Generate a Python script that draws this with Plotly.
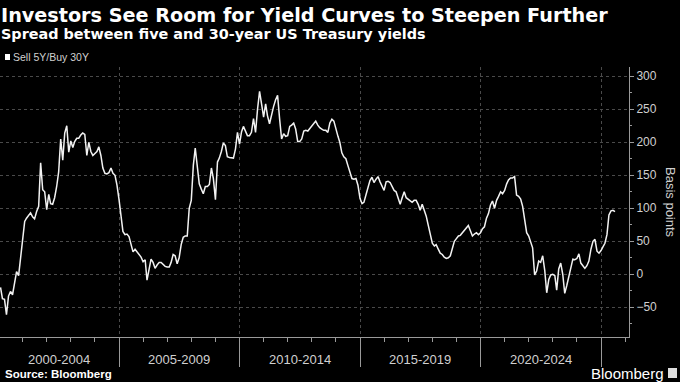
import pandas as pd
import plotly.graph_objects as go

# Monthly spread, bp (5Y vs 30Y), month-end from Jan 2000
start_month = "2000-01-31"
spread_bp = [
    -20, -37, -38, -61, -33, -26, -31, -12, 4, -2,
    24, 50, 80, 85, 89, 93, 87, 84, 95, 103,
    169, 128, 125, 98, 121, 107, 106, 116, 133, 155,
    205, 173, 214, 225, 185, 202, 192, 201, 206, 206,
    211, 214, 212, 180, 200, 186, 180, 183, 186, 193,
    180, 161, 153, 152, 154, 161, 153, 150, 135, 113,
    82, 65, 60, 61, 57, 47, 34, 38, 34, 29,
    26, 19, 22, -9, 7, 23, 18, 9, 14, 18,
    18, 15, 12, 11, 11, 18, 30, 28, 16, 25,
    45, 56, 58, 58, 100, 112, 165, 191, 160, 137,
    129, 122, 133, 133, 136, 161, 145, 113, 170, 176,
    186, 199, 195, 178, 177, 176, 176, 190, 215, 197,
    216, 224, 217, 210, 210, 215, 236, 215, 250, 277,
    258, 238, 258, 240, 228, 243, 254, 264, 271, 235,
    205, 213, 209, 210, 224, 226, 229, 220, 201, 201,
    205, 217, 218, 217, 221, 226, 230, 232, 226, 222,
    220, 218, 218, 215, 229, 235, 232, 218, 209, 200,
    184, 178, 175, 165, 153, 145, 144, 145, 135, 115,
    107, 109, 120, 133, 142, 147, 139, 144, 148, 140,
    133, 127, 140, 141, 139, 134, 127, 125, 117, 106,
    116, 125, 116, 114, 111, 109, 112, 112, 106, 97,
    106, 97, 88, 74, 58, 47, 43, 45, 38, 32,
    30, 26, 24, 25, 28, 40, 50, 54, 58, 59,
    63, 66, 70, 74, 66, 58, 61, 63, 60, 63,
    69, 72, 85, 92, 105, 111, 100, 112, 118, 125,
    122, 127, 137, 143, 146, 146, 148, 120, 118, 114,
    103, 78, 63, 58, 48, 40, -1, 5, 20, 18,
    28, 6, -28, -8, -1, 0, -2, -24, 8, 17,
    0, -29, -17, -2, 10, 23, 22, 24, 31, 17,
    13, 9, 13, 20, 38, 50, 53, 35, 32, 36,
    42, 47, 60, 90, 96, 97, 95,
]
period_labels = ["2000-2004", "2005-2009", "2010-2014", "2015-2019", "2020-2024"]
period_mids = ["2002-07-02", "2007-07-02", "2012-07-02", "2017-07-02", "2022-07-02"]
y_ticks = [-50, 0, 50, 100, 150, 200, 250, 300]
series_name = "Sell 5Y/Buy 30Y"

dates = pd.date_range(start=start_month, periods=len(spread_bp), freq=pd.offsets.MonthEnd())

FONT = "Liberation Sans"
HFONT = "DejaVu Sans"
GRID = "#4a4a4a"
AXIS = "#9a9a9a"
TXT = "#d0d0d0"

fig = go.Figure()
fig.add_trace(go.Scatter(x=dates, y=spread_bp, mode="lines", name=series_name,
                         line=dict(color="#f2f2f2", width=1.5), showlegend=False))

fig.update_layout(
    width=680, height=382,
    paper_bgcolor="black", plot_bgcolor="black",
    margin=dict(l=0, r=51, t=67, b=45, autoexpand=False),
    font=dict(family=FONT, color=TXT),
    xaxis=dict(
        type="date", range=["2000-01-23", "2026-02-28"],
        tick0="2000-01-01", dtick="M60", ticks="outside", ticklen=29,
        tickcolor=AXIS, tickwidth=1, showticklabels=False,
        showgrid=True, gridcolor=GRID, griddash="dot", gridwidth=1,
        showline=True, linecolor=AXIS, linewidth=1, zeroline=False,
        minor=dict(dtick="M12", ticks="outside", ticklen=4, tickcolor=AXIS, showgrid=False),
    ),
    yaxis=dict(
        side="right", range=[-95, 314], tickvals=y_ticks,
        ticks="outside", ticklen=4, tickcolor=AXIS,
        tickfont=dict(size=12, color=TXT),
        showgrid=True, gridcolor=GRID, griddash="dot", gridwidth=1,
        showline=True, linecolor=AXIS, linewidth=1, zeroline=False,
        minor=dict(dtick=25, ticks="outside", ticklen=2, tickcolor=AXIS, showgrid=False),
    ),
)

ann = []
ann.append(dict(text="<b>Investors See Room for Yield Curves to Steepen Further</b>",
                xref="paper", yref="paper", x=0, y=1, xanchor="left", yanchor="middle",
                xshift=-1, yshift=(67 - 15), showarrow=False,
                font=dict(size=19.2, color="white", family=HFONT)))
ann.append(dict(text="<b>Spread between five and 30-year US Treasury yields</b>",
                xref="paper", yref="paper", x=0, y=1, xanchor="left", yanchor="middle",
                xshift=-1, yshift=(67 - 34), showarrow=False,
                font=dict(size=14.4, color="white", family=HFONT)))
ann.append(dict(text=series_name, xref="paper", yref="paper", x=0, y=1,
                xanchor="left", yanchor="middle", xshift=11, yshift=(67 - 57),
                showarrow=False, font=dict(size=10.5, color=TXT, family=FONT)))
for lab, mid in zip(period_labels, period_mids):
    ann.append(dict(text=lab, x=mid, xref="x", yref="paper", y=0, yanchor="middle",
                    yshift=-(359 - 337), showarrow=False,
                    font=dict(size=13, color=TXT, family=FONT)))
ann.append(dict(text="Basis points", xref="paper", yref="paper", x=1, y=0.5,
                xanchor="center", yanchor="middle", xshift=(671 - 629),
                yshift=(337 - 202) - 135, textangle=90, showarrow=False,
                font=dict(size=13, color=TXT, family=FONT)))
ann.append(dict(text="<b>Source: Bloomberg</b>", xref="paper", yref="paper", x=0, y=0,
                xanchor="left", yanchor="middle", xshift=3, yshift=-(374 - 337),
                showarrow=False, font=dict(size=11.5, color="white", family=FONT)))
ann.append(dict(text="Bloomberg", xref="paper", yref="paper", x=1, y=0,
                xanchor="right", yanchor="middle", xshift=(666 - 629), yshift=-(373 - 337),
                showarrow=False, font=dict(size=15, color="white", family=FONT)))
fig.update_layout(annotations=ann)

# legend square
fig.add_shape(type="rect", xref="paper", yref="paper", xsizemode="pixel", ysizemode="pixel",
              xanchor=0, yanchor=1, x0=5, x1=10, y0=67 - 54, y1=67 - 60,
              fillcolor="white", line=dict(width=0))
# logo icon
fig.add_shape(type="rect", xref="paper", yref="paper", xsizemode="pixel", ysizemode="pixel",
              xanchor=1, yanchor=0, x0=668 - 629, x1=677 - 629, y0=-(368 - 337), y1=-(378 - 337),
              fillcolor="#dddddd", line=dict(width=0))

fig.write_html("out.html", config={"displayModeBar": False},
               post_script="document.body.style.margin='0';document.body.style.overflow='hidden';")
